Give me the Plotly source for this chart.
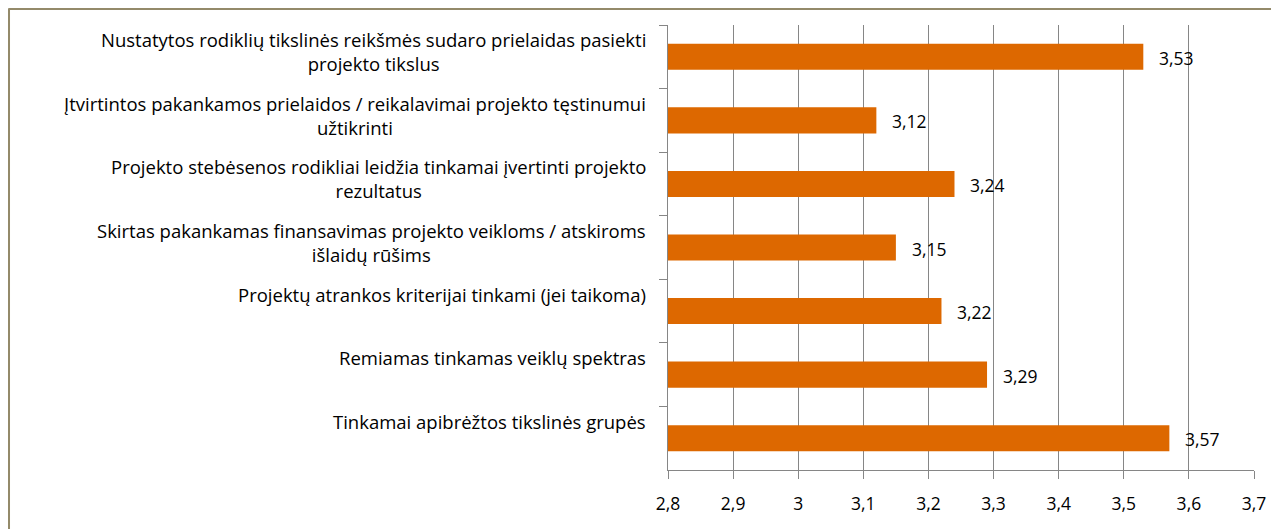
import plotly.graph_objects as go

categories = [
    "Nustatytos rodiklių tikslinės reikšmės sudaro prielaidas pasiekti<br>projekto tikslus",
    "Įtvirtintos pakankamos prielaidos / reikalavimai projekto tęstinumui<br>užtikrinti",
    "Projekto stebėsenos rodikliai leidžia tinkamai įvertinti projekto<br>rezultatus",
    "Skirtas pakankamas finansavimas projekto veikloms / atskiroms<br>išlaidų rūšims",
    "Projektų atrankos kriterijai tinkami (jei taikoma)",
    "Remiamas tinkamas veiklų spektras",
    "Tinkamai apibrėžtos tikslinės grupės",
]
values = [3.53, 3.12, 3.24, 3.15, 3.22, 3.29, 3.57]
value_labels = ["3,53", "3,12", "3,24", "3,15", "3,22", "3,29", "3,57"]
x_ticks = [2.8, 2.9, 3.0, 3.1, 3.2, 3.3, 3.4, 3.5, 3.6, 3.7]
x_tick_labels = ["2,8", "2,9", "3", "3,1", "3,2", "3,3", "3,4", "3,5", "3,6", "3,7"]

FONT = "Open Sans, Noto Sans, sans-serif"
FS = 18.5
BAR = "#DD6800"
GRID = "#868686"

fig = go.Figure(go.Bar(
    x=values, y=categories, orientation="h",
    marker=dict(color=BAR, line=dict(width=0)),
    width=0.41,
))

annotations = []
for c, v, t in zip(categories, values, value_labels):
    annotations.append(dict(x=v, y=c, xref="x", yref="y", text=t, showarrow=False,
                            xanchor="left", yanchor="middle", xshift=14, yshift=-1,
                            font=dict(family=FONT, size=17.5, color="#000")))
    two = "<br>" in c
    annotations.append(dict(x=0, y=c, xref="paper", yref="y", text=c, showarrow=False,
                            xanchor="right", yanchor="middle", align="center",
                            xshift=-20, yshift=5 if two else 17,
                            font=dict(family=FONT, size=FS, color="#000")))

fig.update_layout(
    width=1271, height=521,
    margin=dict(l=660, r=25, t=17, b=59),
    paper_bgcolor="white", plot_bgcolor="white",
    separators=", ",
    showlegend=False,
    annotations=annotations,
    xaxis=dict(range=[2.8, 3.7], tickvals=x_ticks, ticktext=x_tick_labels,
               showgrid=True, gridcolor=GRID, gridwidth=1, zeroline=False,
               showline=True, linecolor=GRID, linewidth=1,
               ticks="outside", ticklen=8, tickcolor=GRID, ticklabelstandoff=10,
               tickfont=dict(family=FONT, size=17.5, color="#000")),
    yaxis=dict(autorange="reversed", showticklabels=False, type="category",
               showline=True, linecolor=GRID, linewidth=1,
               ticks="outside", ticklen=8, tickcolor=GRID, tickson="boundaries",
               showgrid=False, zeroline=False),
    shapes=[
        dict(type="line", xref="paper", yref="paper", x0=-1.1254, x1=-1.1254, y0=-0.3, y1=1.037,
             line=dict(color="#948A6A", width=3)),
        dict(type="line", xref="paper", yref="paper", x0=-1.1254, x1=1.2, y0=1.037, y1=1.037,
             line=dict(color="#948A6A", width=3)),
    ],
)

fig.write_html("out.html")
